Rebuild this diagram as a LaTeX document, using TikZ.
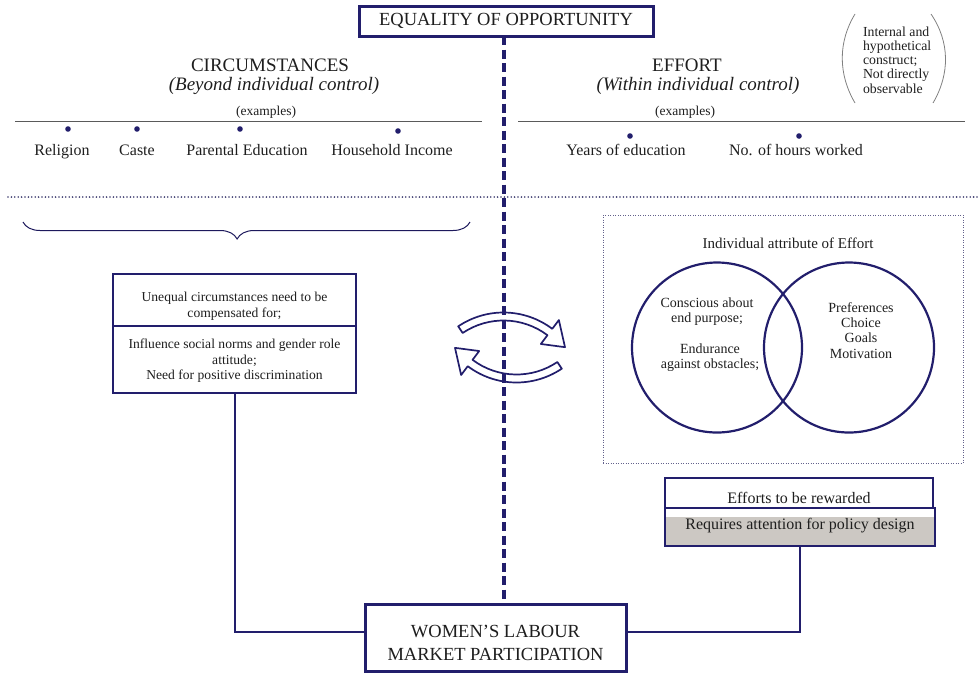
\documentclass[tikz,border=0pt]{standalone}
\usepackage{fontspec}
\setmainfont{Liberation Serif}
\usetikzlibrary{decorations.pathreplacing,calc}
\definecolor{navy}{HTML}{221E6C}
\definecolor{ink}{HTML}{1E1E1E}
\definecolor{rulegray}{HTML}{5A5A5A}
\definecolor{boxgray}{HTML}{CCC8C3}
\definecolor{dotcol}{HTML}{3C3A6E}
\newcommand{\fsz}[2]{\fontsize{#1}{#2}\selectfont}
\begin{document}
\begin{tikzpicture}[x=1pt, y=-1pt,
  every node/.style={text=ink, inner sep=0pt, outer sep=0pt},
  bigbox/.style={draw=navy, line width=3pt, fill=white},
  thinbox/.style={draw=navy, line width=1.3pt},
  conn/.style={navy, line width=2pt},
  dashv/.style={navy, line width=4pt, dash pattern=on 9pt off 4.5pt},
  rulel/.style={rulegray, line width=0.9pt},
  sepline/.style={dotcol, line width=1.8pt, line cap=round, dash pattern=on 0pt off 3.4pt},
  vennbox/.style={draw=dotcol!80, line width=1pt, dash pattern=on 1pt off 1.5pt},
  hollow/.style={draw=navy, line width=1.7pt, fill=white, line join=round},
  hdtext/.style={font=\fsz{19}{22}},
  subtext/.style={font=\fsz{19}{22}\itshape},
  exm/.style={font=\fsz{13.5}{16}},
  lab/.style={font=\fsz{16}{19}, anchor=base},
  smalltext/.style={font=\fsz{13.6}{15.5}, align=center},
  venntext/.style={font=\fsz{14}{15.2}, align=center},
  venncirc/.style={draw=navy, line width=2.2pt, circle, minimum size=170pt},
]
\useasboundingbox (0,0) rectangle (979,673);

% ---------- title ----------
\node[bigbox, minimum width=294pt, minimum height=30pt, font=\fsz{18.5}{22}] (title) at (506,21) {EQUALITY OF OPPORTUNITY};

% ---------- circumstances ----------
\node[hdtext] (circ) at (270,65.5) {CIRCUMSTANCES};
\node[subtext] (circsub) at (274,86) {(Beyond individual control)};
\node[exm] (circex) at (266,112) {(examples)};
\coordinate (cl1) at (15,121); \coordinate (cl2) at (482,121);
\draw[rulel] (cl1) -- (cl2);
\fill[navy] (68,129) circle[radius=2.8];
\fill[navy] (137,129) circle[radius=2.8];
\fill[navy] (240,129) circle[radius=2.8];
\fill[navy] (398,131) circle[radius=2.8];
\node[lab] (rel) at (62,155) {Religion};
\node[lab] (cas) at (137,155) {Caste};
\node[lab] (par) at (247,155) {Parental Education};
\node[lab] (hou) at (392,155) {Household Income};

% ---------- effort ----------
\node[hdtext] (eff) at (687,65.5) {EFFORT};
\node[subtext] (effsub) at (698,86) {(Within individual control)};
\node[exm] (effex) at (685,112) {(examples)};
\coordinate (el1) at (518,121); \coordinate (el2) at (965,121);
\draw[rulel] (el1) -- (el2);
\fill[navy] (630,136) circle[radius=2.8];
\fill[navy] (799,136) circle[radius=2.8];
\node[lab] (yoe) at (626,155) {Years of education};
\node[lab] (noh) at (796,155) {No. of hours worked};

% ---------- note in parentheses ----------
\node[font=\fsz{13.8}{14.2}, align=left, anchor=west] (note) at (863,60)
  {Internal and\\hypothetical\\construct;\\Not directly\\observable};
\draw[gray, line width=0.8pt] (855,14) .. controls (838,42) and (838,74) .. (855,103);
\draw[gray, line width=0.8pt] (931,14) .. controls (950,42) and (950,74) .. (933,103);

% ---------- separator ----------
\coordinate (s1) at (8,197); \coordinate (s2) at (979,197);
\draw[sepline] (s1) -- (s2);

% ---------- brace ----------
\coordinate (brl) at (23,222); \coordinate (brr) at (470,222);
\draw[navy!85!black, line width=1pt, decorate,
  decoration={brace, mirror, amplitude=17pt, aspect=0.479}] (brl) -- (brr);

% ---------- left box ----------
\node[thinbox, minimum width=243pt, minimum height=52pt] (lb1) at (234.5,300) {};
\node[thinbox, minimum width=243pt, minimum height=67pt] (lb2) at (234.5,359.5) {};
\node[smalltext] (lbt1) at (234.5,306) {Unequal circumstances need to be\\compensated for;};
\node[smalltext] (lbt2) at (234.5,361) {Influence social norms and gender role\\attitude;\\Need for positive discrimination};

% ---------- hollow curved arrows ----------
\coordinate (c1) at (503.5,393.5);
\draw[hollow] ($(c1)+(-124:81)$) arc[start angle=-124, end angle=-53, radius=81]
  -- ($(c1)+(-53:92)$) -- ($(c1)+(-37:77)$) -- ($(c1)+(-53:62)$) -- ($(c1)+(-53:73)$)
  arc[start angle=-53, end angle=-124, radius=73] -- cycle;
\coordinate (c2) at (516.5,301.5);
\draw[hollow] ($(c2)+(56:81)$) arc[start angle=56, end angle=127, radius=81]
  -- ($(c2)+(127:92)$) -- ($(c2)+(143:77)$) -- ($(c2)+(127:62)$) -- ($(c2)+(127:73)$)
  arc[start angle=127, end angle=56, radius=73] -- cycle;

% ---------- venn box ----------
\node[vennbox, minimum width=360pt, minimum height=248pt] (venn) at (783,339) {};
\node[font=\fsz{15}{18}] (venntitle) at (788,243) {Individual attribute of Effort};
\node[venncirc] (cl) at (717,347.5) {};
\node[venncirc] (cr) at (849,347.5) {};
\node[venntext] (vt1) at (707,311.5) {Conscious about\\end purpose;};
\node[venntext] (vt2) at (710,357.5) {Endurance\\against obstacles;};
\node[venntext] (vt3) at (861,330.5) {Preferences\\Choice\\Goals\\Motivation};

% ---------- policy boxes ----------
\node[thinbox, fill=white, minimum width=268pt, minimum height=31pt] (pol1) at (799,493.5) {};
\node[thinbox, fill=boxgray, minimum width=270pt, minimum height=38pt] (pol2) at (800,527) {};
\fill[white] ($(pol2.north west)+(0.7,0.7)$) rectangle ($(pol2.north east)+(-0.7,8.5)$);
\node[font=\fsz{16}{19}] (polt1) at (799,498) {Efforts to be rewarded};
\node[font=\fsz{16}{19}] (polt2) at (800,525.5) {Requires attention for policy design};

% ---------- bottom box ----------
\node[bigbox, minimum width=261pt, minimum height=67pt] (wlmp) at (495.5,637.5) {};
\node[font=\fsz{18.5}{23}, align=center] (wlmpt) at (495.5,643) {WOMEN’S LABOUR\\MARKET PARTICIPATION};

% ---------- connectors ----------
\coordinate (jy) at (0,632);
\coordinate (dx) at (503.5,0);
\draw[conn] (lb2.south) |- (wlmp.west |- jy);
\draw[conn] (pol2.south) |- (wlmp.east |- jy);
\draw[dashv] (title.south -| dx) -- (wlmp.north -| dx);
\end{tikzpicture}
\end{document}
